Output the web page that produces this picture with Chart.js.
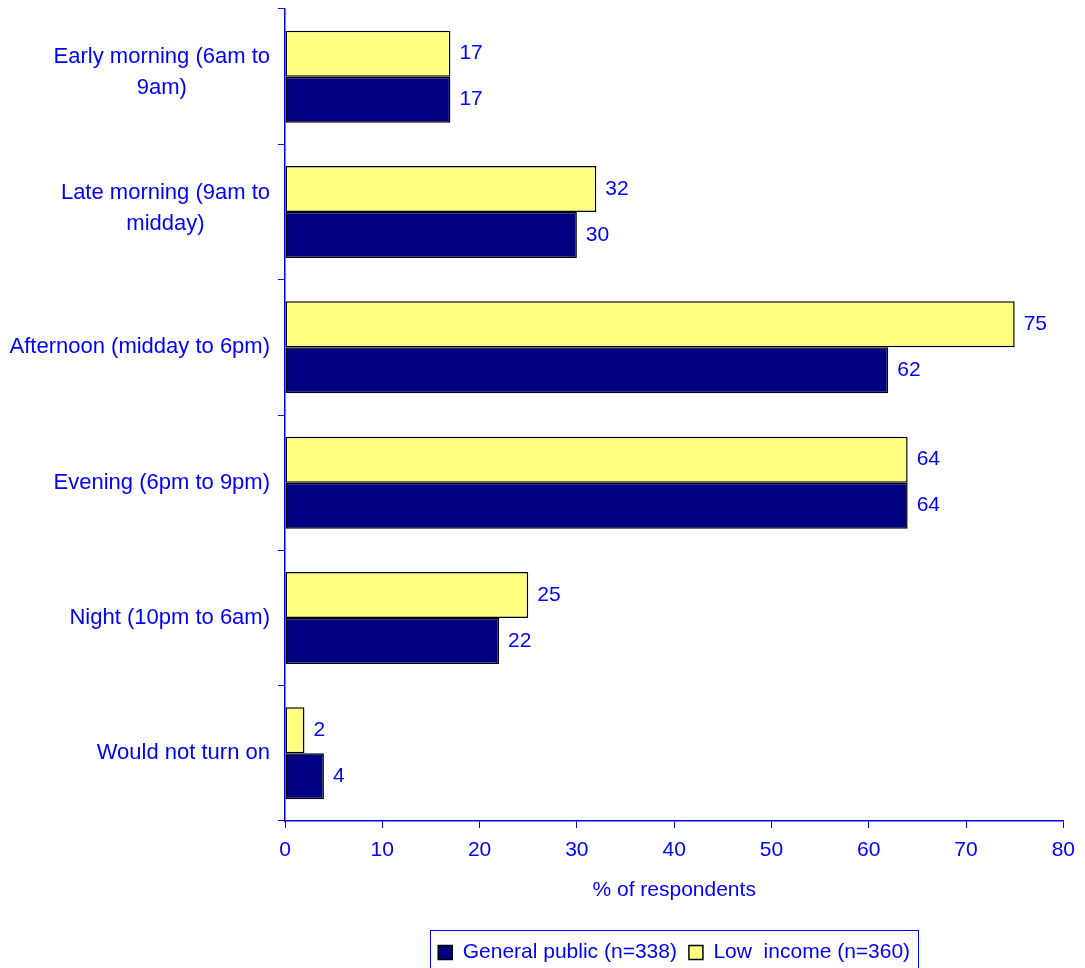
<!DOCTYPE html>
<html lang="en">
<head>
  <meta charset="UTF-8" />
  <title>Time of day</title>
  <style>
    body { margin: 0; padding: 0; background: #ffffff; }
    canvas { display: block; }
  </style>
</head>
<body>
  <canvas id="chart" width="1085" height="968"></canvas>
  <script src="https://cdn.jsdelivr.net/npm/chart.js"></script>
  <script>
    const categories = [
      ['Early morning (6am to', '9am)'],
      ['Late morning (9am to', 'midday)'],
      ['Afternoon (midday to 6pm)'],
      ['Evening (6pm to 9pm)'],
      ['Night (10pm to 6am)'],
      ['Would not turn on']
    ];
    const lowIncome = [17, 32, 75, 64, 25, 2];
    const generalPublic = [17, 30, 62, 64, 22, 4];
    const seriesNames = ['Low  income (n=360)', 'General public (n=338)'];
    const xTitle = '% of respondents';

    const BLUE = '#0000ff';
    const FONT = "'Liberation Sans', Arial, sans-serif";
    const LEGEND_PAD = 12;

    // category labels drawn by hand so wrapped lines stay centred on each other
    const yLabels = {
      id: 'yLabels',
      afterDraw(chart) {
        const scale = chart.scales.y;
        const ctx = chart.ctx;
        ctx.save();
        ctx.font = `22px ${FONT}`;
        ctx.fillStyle = BLUE;
        ctx.textAlign = 'center';
        ctx.textBaseline = 'middle';
        categories.forEach((lines, i) => {
          const widest = Math.max(...lines.map(l => ctx.measureText(l).width));
          const cx = 270 - widest / 2;
          const lh = 31;
          const y0 = scale.getPixelForTick(i) - (lines.length - 1) * lh / 2 - (lines.length > 1 ? 4 : 0);
          lines.forEach((l, j) => ctx.fillText(l, cx, y0 + j * lh));
        });
        ctx.restore();
      }
    };

    const valueLabels = {
      id: 'valueLabels',
      afterDatasetsDraw(chart) {
        const ctx = chart.ctx;
        ctx.save();
        ctx.font = `21px ${FONT}`;
        ctx.fillStyle = BLUE;
        ctx.textAlign = 'left';
        ctx.textBaseline = 'middle';
        chart.data.datasets.forEach((ds, di) => {
          chart.getDatasetMeta(di).data.forEach((bar, i) => {
            ctx.fillText(String(ds.data[i]), bar.x + 9, bar.y);
          });
        });
        ctx.restore();
      }
    };

    // centre the legend under the plot area (not the canvas) and frame it
    const legendBox = {
      id: 'legendBox',
      afterLayout(chart) {
        const lg = chart.legend;
        lg.left = chart.chartArea.left;
        lg.right = chart.chartArea.right;
        lg.width = lg.right - lg.left;
        lg.top += 5;
        lg.bottom += 5;
      },
      afterDraw(chart) {
        const lg = chart.legend;
        if (!lg.lineWidths) return;
        const rowW = lg.lineWidths[0];
        const start = (lg.left + LEGEND_PAD + lg.right - rowW) / 2;
        const left = start - 8;
        const right = start + rowW - LEGEND_PAD + 8;
        const top = lg.top + LEGEND_PAD - 12;
        const ctx = chart.ctx;
        ctx.save();
        ctx.strokeStyle = BLUE;
        ctx.lineWidth = 1;
        ctx.strokeRect(Math.round(left) + 0.5, Math.round(top) + 0.5, Math.round(right - left), 80);
        ctx.restore();
      }
    };

    new Chart(document.getElementById('chart').getContext('2d'), {
      type: 'bar',
      data: {
        labels: categories,
        datasets: [
          {
            label: seriesNames[0],
            data: lowIncome,
            backgroundColor: '#ffff80',
            borderColor: '#000000',
            borderWidth: 1.5,
            borderSkipped: false
          },
          {
            label: seriesNames[1],
            data: generalPublic,
            backgroundColor: '#000080',
            borderColor: '#000000',
            borderWidth: 1.5,
            borderSkipped: false
          }
        ]
      },
      options: {
        indexAxis: 'y',
        responsive: false,
        animation: false,
        devicePixelRatio: 1,
        categoryPercentage: 0.68,
        barPercentage: 1,
        layout: { padding: { top: 9, right: 18, bottom: 0, left: 0 } },
        scales: {
          x: {
            min: 0,
            max: 80,
            ticks: { stepSize: 10, color: BLUE, font: { family: FONT, size: 21 }, padding: 10 },
            grid: { drawOnChartArea: false, color: BLUE, tickColor: BLUE, tickLength: 7 },
            border: { color: BLUE, width: 1.5 },
            title: {
              display: true,
              text: xTitle,
              color: BLUE,
              font: { family: FONT, size: 21 },
              padding: { top: 4, bottom: 22 }
            },
            afterFit(scale) { scale.height = 104; }
          },
          y: {
            ticks: { display: false },
            grid: { drawOnChartArea: false, color: BLUE, tickColor: BLUE, tickLength: 7, offset: true },
            border: { color: BLUE, width: 1.5 },
            afterFit(scale) { scale.width = 285; }
          }
        },
        plugins: {
          legend: {
            position: 'bottom',
            reverse: true,
            labels: {
              color: BLUE,
              font: { family: FONT, size: 21 },
              boxWidth: 14,
              boxHeight: 14,
              padding: LEGEND_PAD,
              useBorderRadius: false
            }
          },
          tooltip: { enabled: false }
        }
      },
      plugins: [yLabels, valueLabels, legendBox]
    });
  </script>
</body>
</html>
